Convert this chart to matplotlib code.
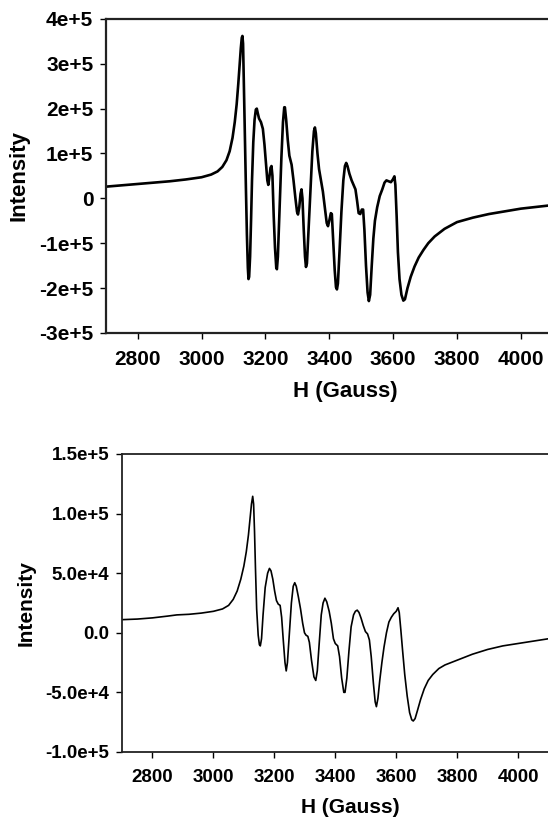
import matplotlib
matplotlib.use('Agg')
import matplotlib.pyplot as plt
import numpy as np

plt.rcParams['font.family'] = ['Liberation Sans', 'DejaVu Sans']
plt.rcParams['font.weight'] = 'bold'

# top spectrum: field (G) and intensity (units of 1e5)
h_top = [2700, 2800, 2900, 2950, 3000, 3030, 3050, 3065, 3078, 3088, 3097, 3104, 3110,
         3115, 3119, 3123, 3126, 3128, 3130, 3132, 3135, 3139, 3142, 3145, 3147, 3149,
         3152, 3155, 3158, 3162, 3166, 3170, 3173, 3176, 3180, 3186, 3192, 3197, 3202,
         3206, 3209, 3212, 3216, 3219, 3222, 3226, 3230, 3234, 3236, 3239, 3244, 3250,
         3255, 3259, 3261, 3265, 3270, 3275, 3282, 3288, 3294, 3299, 3302, 3306, 3310,
         3313, 3316, 3320, 3324, 3327, 3330, 3335, 3341, 3347, 3352, 3355, 3358, 3363,
         3368, 3374, 3380, 3386, 3392, 3396, 3400, 3405, 3408, 3412, 3417, 3421, 3424,
         3427, 3432, 3438, 3444, 3449, 3453, 3457, 3463, 3470, 3477, 3482, 3487, 3492,
         3497, 3502, 3506, 3510, 3515, 3520, 3524, 3528, 3533, 3538, 3543, 3550, 3558,
         3566, 3573, 3579, 3586, 3593, 3599, 3604, 3607, 3611, 3615, 3620, 3626, 3632,
         3637, 3645, 3655, 3667, 3680, 3695, 3710, 3730, 3761, 3800, 3850, 3900, 3950,
         4000, 4050, 4100, 4150, 4200]
i_top = [0.26, 0.32, 0.38, 0.42, 0.47, 0.53, 0.60, 0.70, 0.85, 1.05, 1.35, 1.70, 2.10,
         2.55, 2.95, 3.35, 3.58, 3.62, 3.45, 2.70, 1.50, 0.20, -0.80, -1.55, -1.80, -1.75,
         -1.30, -0.50, 0.40, 1.25, 1.75, 1.98, 2.00, 1.90, 1.78, 1.70, 1.55, 1.20, 0.75,
         0.40, 0.30, 0.45, 0.68, 0.72, 0.50, -0.40, -1.10, -1.55, -1.58, -1.30, -0.30, 0.90,
         1.70, 2.03, 2.03, 1.75, 1.30, 0.95, 0.75, 0.40, 0.00, -0.30, -0.36, -0.20, 0.10,
         0.20, 0.00, -0.70, -1.30, -1.53, -1.45, -0.70, 0.20, 1.05, 1.50, 1.58, 1.45, 1.00,
         0.65, 0.40, 0.15, -0.20, -0.55, -0.62, -0.50, -0.33, -0.35, -0.90, -1.60, -1.98, -2.03,
         -1.90, -1.20, -0.30, 0.40, 0.72, 0.79, 0.72, 0.55, 0.40, 0.28, 0.20, -0.05, -0.33,
         -0.35, -0.25, -0.25, -0.70, -1.50, -2.10, -2.29, -2.15, -1.50, -0.90, -0.50, -0.20, 0.05,
         0.20, 0.35, 0.40, 0.38, 0.36, 0.42, 0.49, 0.30, -0.40, -1.20, -1.80, -2.15, -2.28,
         -2.25, -2.00, -1.75, -1.52, -1.32, -1.15, -1.00, -0.85, -0.68, -0.53, -0.43, -0.35, -0.29,
         -0.23, -0.19, -0.15, -0.12, -0.10]

# bottom spectrum
h_bot = [2700, 2750, 2800, 2850, 2880, 2920, 2960, 3000, 3030, 3050, 3065, 3078, 3090,
         3100, 3108, 3115, 3120, 3125, 3129, 3132, 3135, 3138, 3142, 3147, 3151, 3154,
         3158, 3163, 3170, 3178, 3184, 3189, 3195, 3201, 3207, 3213, 3219, 3224, 3229,
         3235, 3239, 3243, 3249, 3256, 3262, 3267, 3272, 3279, 3286, 3293, 3299, 3304,
         3310, 3315, 3322, 3330, 3336, 3341, 3347, 3354, 3360, 3366, 3372, 3380, 3387,
         3394, 3400, 3408, 3414, 3421, 3428, 3432, 3438, 3445, 3452, 3460, 3466, 3472,
         3478, 3485, 3492, 3499, 3506, 3512, 3518, 3525, 3531, 3535, 3540, 3546, 3553,
         3560, 3568, 3576, 3584, 3592, 3600, 3606, 3610, 3615, 3621, 3628, 3636, 3644,
         3651, 3656, 3662, 3670, 3680, 3692, 3705, 3720, 3740, 3760, 3800, 3850, 3900,
         3950, 4000, 4050, 4100, 4150, 4200]
i_bot = [0.110, 0.115, 0.125, 0.140, 0.150, 0.155, 0.165, 0.180, 0.200, 0.230, 0.280, 0.350, 0.450,
         0.560, 0.680, 0.820, 0.950, 1.080, 1.145, 1.080, 0.850, 0.550, 0.200, -0.020, -0.100, -0.110,
         -0.050, 0.150, 0.380, 0.500, 0.540, 0.520, 0.450, 0.350, 0.270, 0.240, 0.230, 0.130, -0.050,
         -0.250, -0.320, -0.250, -0.020, 0.250, 0.390, 0.420, 0.390, 0.300, 0.200, 0.080, 0.000, -0.020,
         -0.030, -0.080, -0.230, -0.370, -0.400, -0.320, -0.100, 0.150, 0.250, 0.290, 0.260, 0.180, 0.080,
         -0.050, -0.090, -0.110, -0.200, -0.380, -0.500, -0.500, -0.380, -0.150, 0.050, 0.150, 0.180, 0.190,
         0.170, 0.120, 0.060, 0.010, -0.010, -0.060, -0.200, -0.420, -0.580, -0.620, -0.550, -0.400, -0.250,
         -0.120, 0.000, 0.090, 0.130, 0.160, 0.180, 0.210, 0.170, 0.030, -0.150, -0.350, -0.530, -0.670,
         -0.730, -0.740, -0.720, -0.650, -0.560, -0.470, -0.400, -0.350, -0.300, -0.270, -0.230, -0.180, -0.140,
         -0.110, -0.090, -0.070, -0.050, -0.040, -0.030]

top_yticks = [-3e5, -2e5, -1e5, 0, 1e5, 2e5, 3e5, 4e5]
top_ylabels = ['-3e+5', '-2e+5', '-1e+5', '0', '1e+5', '2e+5', '3e+5', '4e+5']
bot_yticks = [-1e5, -5e4, 0, 5e4, 1e5, 1.5e5]
bot_ylabels = ['-1.0e+5', '-5.0e+4', '0.0', '5.0e+4', '1.0e+5', '1.5e+5']
xticks = [2800, 3000, 3200, 3400, 3600, 3800, 4000]

fig = plt.figure(figsize=(5.48, 8.22), dpi=100)

ax1 = fig.add_axes([0.193, 0.595, 0.874, 0.382])
ax1.plot(h_top, np.array(i_top) * 1e5, color='black', lw=1.9)
ax1.set_xlim(2700, 4200)
ax1.set_ylim(-3e5, 4e5)
ax1.set_yticks(top_yticks)
ax1.set_yticklabels(top_ylabels)

ax2 = fig.add_axes([0.2226, 0.0852, 0.834, 0.3625])
ax2.plot(h_bot, np.array(i_bot) * 1e5, color='black', lw=1.2)
ax2.set_xlim(2700, 4200)
ax2.set_ylim(-1e5, 1.5e5)
ax2.set_yticks(bot_yticks)
ax2.set_yticklabels(bot_ylabels)

for ax, fs, lfs, sw in [(ax1, 15, 16, 1.6), (ax2, 13.5, 15, 1.3)]:
    ax.set_xticks(xticks)
    ax.tick_params(direction='out', length=4, width=1, labelsize=fs, colors='black')
    ax.tick_params(axis='x', pad=8)
    ax.tick_params(axis='y', pad=5)
    for lab in ax.get_xticklabels() + ax.get_yticklabels():
        lab.set_fontweight('bold')
    ax.set_xlabel('H (Gauss)', fontsize=lfs, fontweight='bold', labelpad=9)
    ax.set_ylabel('Intensity', fontsize=lfs, fontweight='bold', labelpad=7)
    for s in ax.spines.values():
        s.set_linewidth(sw)
        s.set_color('#222222')

fig.savefig('out.png', dpi=100)
